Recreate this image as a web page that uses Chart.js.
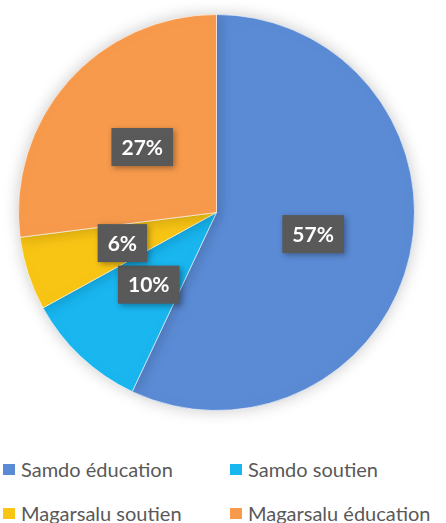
<!DOCTYPE html>
<html>
<head>
<meta charset="utf-8">
<script src="https://cdn.jsdelivr.net/npm/chart.js@4"></script>
<style>
	html, body { margin: 0; padding: 0; background: #fff; }
	#wrap { width: 446px; height: 523px; position: relative; overflow: hidden; }
	#legend { position: absolute; left: 3px; top: 458px; width: 460px; display: grid; grid-template-columns: 227px 233px; row-gap: 22px; font-family: Lato, 'Open Sans', sans-serif; font-size: 20px; color: #595959; }
	#legend div { display: flex; align-items: center; white-space: nowrap; height: 22px; }
	#legend span.box { width: 12px; height: 11px; margin-right: 6px; display: inline-block; }
</style>
</head>
<body>
<div id="wrap">
	<canvas id="pie" width="446" height="430"></canvas>
	<div id="legend"></div>
</div>
<script>
'use strict'

const categories = ['Samdo éducation', 'Samdo soutien', 'Magarsalu soutien', 'Magarsalu éducation'];
const values = [57, 10, 6, 27];
const sliceColors = ['#5B8BD5', '#19B6F0', '#F9C515', '#F79A4C'];

const pieShadow = {
	id: 'pieShadow',
	beforeDatasetDraw(chart) {
		const ctx = chart.ctx;
		ctx.save();
		ctx.shadowColor = 'rgba(0, 0, 0, 0.22)';
		ctx.shadowBlur = 16;
	},
	afterDatasetDraw(chart) {
		chart.ctx.restore();
	},
};

const boxLabels = {
	id: 'boxLabels',
	afterDatasetsDraw(chart) {
		const ctx = chart.ctx;
		ctx.save();
		ctx.font = 'bold 21px Lato, "Open Sans", sans-serif';
		ctx.textAlign = 'center';
		ctx.textBaseline = 'middle';
		chart.data.datasets[0].data.forEach((v, i) => {
			const { x, y } = chart.getDatasetMeta(0).data[i].tooltipPosition();
			const text = v + '%';
			const w = ctx.measureText(text).width + 20;
			const h = 38;
			ctx.shadowColor = 'rgba(0, 0, 0, 0.35)';
			ctx.shadowBlur = 6;
			ctx.shadowOffsetX = 2;
			ctx.shadowOffsetY = 2;
			ctx.fillStyle = '#595959';
			ctx.fillRect(x - w / 2, y - h / 2, w, h);
			ctx.shadowColor = 'transparent';
			ctx.fillStyle = '#fff';
			ctx.fillText(text, x, y + 1);
		});
		ctx.restore();
	},
};

new Chart(document.getElementById('pie'), {
	type: 'pie',
	data: {
		labels: categories,
		datasets: [{
			data: values,
			backgroundColor: sliceColors,
			borderColor: 'rgba(255, 255, 255, 0.6)',
			borderWidth: 1,
		}],
	},
	options: {
		responsive: false,
		animation: false,
		layout: { padding: { left: 18, right: 31, top: 14, bottom: 19 } },
		plugins: {
			legend: { display: false },
			tooltip: { enabled: false },
		},
	},
	plugins: [pieShadow, boxLabels],
});

const legend = document.getElementById('legend');
categories.forEach((name, i) => {
	const item = document.createElement('div');
	item.innerHTML = '<span class="box" style="background:' + sliceColors[i] + '"></span>' + name;
	legend.appendChild(item);
});
</script>
</body>
</html>
